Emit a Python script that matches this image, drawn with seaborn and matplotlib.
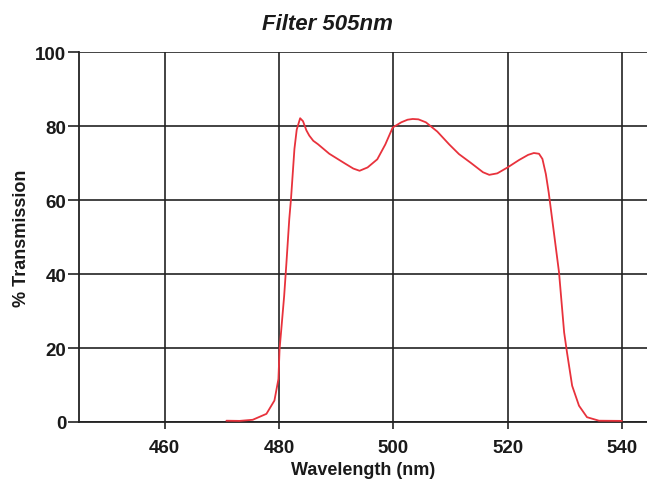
import matplotlib
matplotlib.use("Agg")
import matplotlib.pyplot as plt
import seaborn as sns
import pandas as pd

wavelength = [470.8, 473.1, 475.4, 477.8, 479.2, 479.9, 480.1, 480.4, 480.9, 481.3, 481.8,
              482.1, 482.7, 483.1, 483.7, 484.2, 484.8, 485.3, 486.0, 486.8, 488.8, 491.4,
              493.0, 494.1, 495.5, 497.2, 498.6, 499.9, 501.4, 502.5, 503.4, 504.4, 505.7,
              507.7, 509.8, 511.5, 513.6, 515.7, 516.8, 518.2, 520.0, 522.0, 523.6, 524.6,
              525.5, 526.1, 526.7, 527.2, 528.1, 529.0, 529.9, 530.4, 531.3, 532.5, 533.9,
              536.0, 540.0]
transmission = [0.35, 0.3, 0.6, 2.2, 5.8, 11.6, 19.7, 25.0, 34.0, 43.0, 54.9,
                60.3, 73.8, 79.0, 82.1, 81.3, 78.8, 77.4, 76.0, 75.1, 72.5, 70.0,
                68.5, 67.9, 68.8, 71.0, 75.0, 79.6, 81.0, 81.7, 81.9, 81.8, 81.0,
                78.5, 75.0, 72.4, 70.0, 67.5, 66.8, 67.2, 68.8, 70.8, 72.2, 72.7,
                72.5, 71.1, 67.0, 62.0, 51.3, 40.5, 24.2, 18.8, 9.8, 4.4, 1.3,
                0.35, 0.3]
x_ticks = [460, 480, 500, 520, 540]
y_ticks = [0, 20, 40, 60, 80, 100]

df = pd.DataFrame({"Wavelength": wavelength, "Transmission": transmission})

sns.set_theme(style="white")
plt.rcParams["font.family"] = ["Liberation Sans", "DejaVu Sans"]

fig = plt.figure(figsize=(6.47, 4.85), dpi=100)
ax = fig.add_axes([79 / 647, 1 - 423 / 485, 1 - 79 / 647, (423 - 53) / 485])

sns.lineplot(data=df, x="Wavelength", y="Transmission", ax=ax, color="#e8323c",
             linewidth=1.3, zorder=3)

ax.set_xlim(445, 544.4)
ax.set_ylim(0, 100)
ax.set_xticks(x_ticks)
ax.set_yticks(y_ticks)
ax.grid(True, color="#222222", linewidth=1.2)
ax.set_axisbelow(True)
for s in ["top", "right"]:
    ax.spines[s].set_visible(False)
for s in ["left", "bottom"]:
    ax.spines[s].set_color("#222222")
    ax.spines[s].set_linewidth(1.3)
ax.tick_params(axis="x", direction="out", length=5, width=1.2, color="#222222",
               labelsize=13.5, pad=7, bottom=True)
ax.tick_params(axis="y", direction="out", length=8, width=1.2, color="#222222",
               labelsize=13.5, pad=1, left=True)
for lab in ax.get_xticklabels() + ax.get_yticklabels():
    lab.set_fontweight("bold")
    lab.set_color("#1a1a1a")

ax.set_xlabel("Wavelength (nm)", fontsize=13, fontweight="bold", color="#1a1a1a", labelpad=4)
ax.set_ylabel("% Transmission", fontsize=13, fontweight="bold", color="#1a1a1a", labelpad=4)
fig.text(327 / 647, 1 - 24 / 485, "Filter 505nm", ha="center", va="center",
         fontsize=16, fontweight="bold", fontstyle="italic", color="#1a1a1a")

fig.savefig("out.png", dpi=100)
